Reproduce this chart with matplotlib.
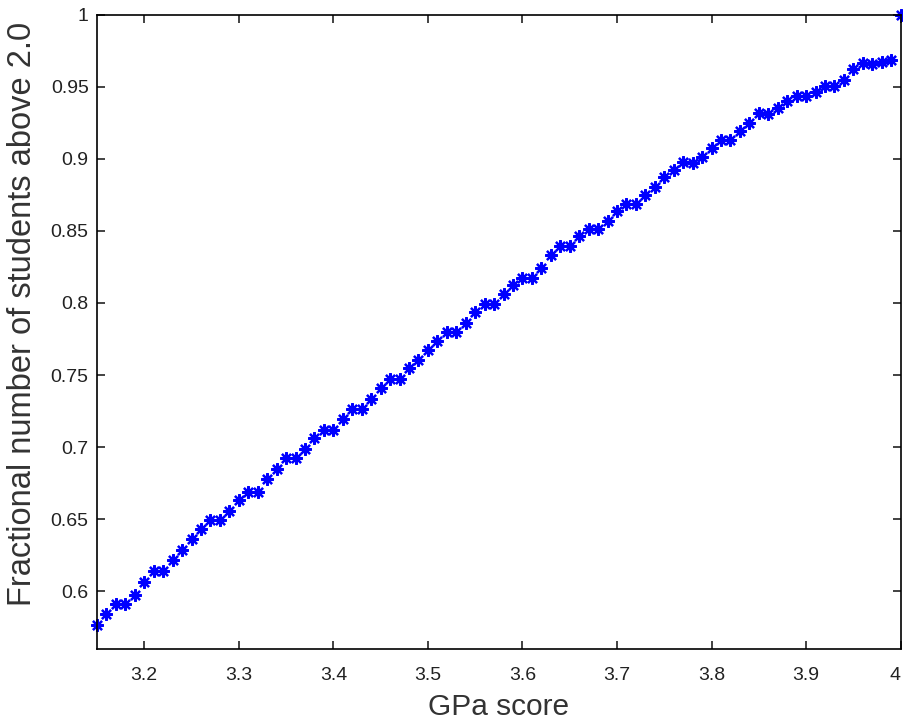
"""Fraction of students above 2.0 versus GPa score."""

import matplotlib

matplotlib.use("Agg")
import matplotlib.pyplot as plt
import numpy as np

gpa = np.round(np.arange(3.15, 4.0001, 0.01), 2)
fraction = [
    0.5765, 0.584, 0.591, 0.591, 0.5977, 0.6067, 0.6143, 0.6143, 0.6217, 0.6289,
    0.6365, 0.6434, 0.6498, 0.6498, 0.656, 0.663, 0.6692, 0.6692, 0.678, 0.6849,
    0.6923, 0.6923, 0.699, 0.706, 0.7122, 0.7122, 0.7198, 0.7264, 0.7264, 0.7333,
    0.7408, 0.7472, 0.7472, 0.7548, 0.7603, 0.7675, 0.7733, 0.7799, 0.7799, 0.7864,
    0.7938, 0.7996, 0.7996, 0.806, 0.8122, 0.8176, 0.8176, 0.824, 0.833, 0.8398,
    0.8396, 0.8464, 0.8515, 0.8515, 0.8568, 0.8637, 0.8687, 0.8686, 0.8752, 0.8803,
    0.8872, 0.8925, 0.8975, 0.897, 0.901, 0.9075, 0.913, 0.913, 0.9192, 0.9247,
    0.9315, 0.9314, 0.9352, 0.9398, 0.9437, 0.9435, 0.9467, 0.9507, 0.9505, 0.9548,
    0.9622, 0.9664, 0.966, 0.9671, 0.9686, 1.0,
]
x_ticks = [3.2, 3.3, 3.4, 3.5, 3.6, 3.7, 3.8, 3.9, 4.0]
x_tick_labels = ["3.2", "3.3", "3.4", "3.5", "3.6", "3.7", "3.8", "3.9", "4"]
y_ticks = [0.6, 0.65, 0.7, 0.75, 0.8, 0.85, 0.9, 0.95, 1.0]
y_tick_labels = ["0.6", "0.65", "0.7", "0.75", "0.8", "0.85", "0.9", "0.95", "1"]

plt.rcParams["font.family"] = ["Liberation Sans", "DejaVu Sans"]

fig = plt.figure(figsize=(9.04, 7.23), dpi=100)
ax = fig.add_axes([0.1073, 0.1024, 0.889, 0.8773])
# MATLAB-style '*' marker: eight-armed asterisk, no connecting line
ax.plot(gpa, fraction, linestyle="none", color="#0000ff",
        marker=(8, 2, 0), markersize=9, markeredgewidth=1.6, clip_on=False)
ax.set_xlim(3.15, 4.0)
ax.set_ylim(0.56, 1.0)
ax.set_xticks(x_ticks)
ax.set_xticklabels(x_tick_labels)
ax.set_yticks(y_ticks)
ax.set_yticklabels(y_tick_labels)
ax.tick_params(direction="in", length=6, width=1.2, labelsize=14, colors="#222222",
               top=True, right=True)
ax.tick_params(axis="x", pad=13)
ax.tick_params(axis="y", pad=6)
ax.get_xticklabels()[-1].set_horizontalalignment("right")
for spine in ax.spines.values():
    spine.set_linewidth(1.2)
ax.set_xlabel("GPa score", fontsize=21.5, color="#333333")
ax.set_ylabel("Fractional number of students above 2.0", fontsize=23.5, color="#333333")
ax.xaxis.set_label_coords(0.5, -0.07)
ax.yaxis.set_label_coords(-0.074, 0.528)

fig.savefig("out.png", dpi=100)
